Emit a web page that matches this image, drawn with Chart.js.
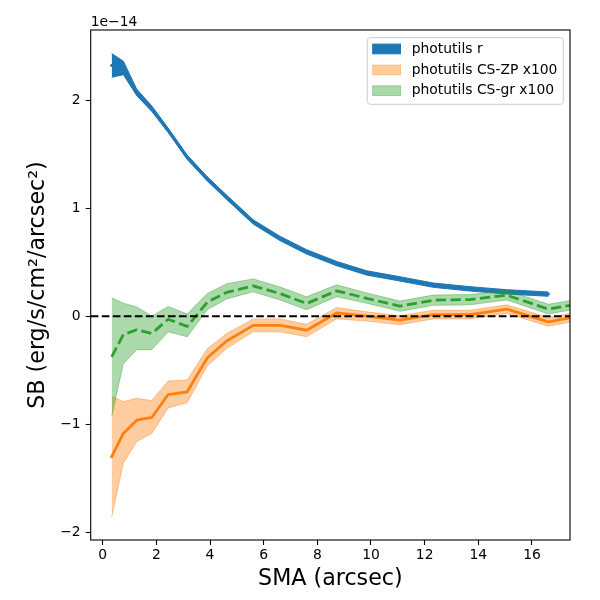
<!DOCTYPE html>
<html><head><meta charset="utf-8">
<script src="https://cdn.jsdelivr.net/npm/chart.js@4.4.1/dist/chart.umd.min.js"></script>
<style>html,body{margin:0;padding:0;background:#fff;}</style>
</head><body>
<canvas id="c" width="600" height="600"></canvas>
<script>
// ---- data (surface brightness in units of 1e-14) ----
const smaR = [0.335, 0.77, 1.27, 1.83, 2.44, 3.15, 3.90, 4.62, 5.61, 6.61, 7.60, 8.72, 9.84, 11.08, 12.32, 13.69, 15.06, 16.61];
const sbR      = [2.32, 2.30, 2.07, 1.92, 1.72, 1.47, 1.27, 1.10, 0.872, 0.719, 0.595, 0.487, 0.400, 0.345, 0.287, 0.253, 0.225, 0.204];
const sbRUpper = [2.43, 2.36, 2.10, 1.945, 1.74, 1.49, 1.29, 1.12, 0.892, 0.739, 0.615, 0.507, 0.420, 0.365, 0.307, 0.273, 0.245, 0.224];
const sbRLower = [2.21, 2.235, 2.04, 1.895, 1.70, 1.45, 1.25, 1.08, 0.852, 0.699, 0.575, 0.467, 0.380, 0.325, 0.267, 0.233, 0.205, 0.184];

const smaCS = [0.335, 0.77, 1.27, 1.83, 2.44, 3.15, 3.90, 4.62, 5.61, 6.61, 7.60, 8.72, 9.84, 11.08, 12.32, 13.69, 15.06, 16.61, 18.3];
const sbZP      = [-1.30, -1.085, -0.962, -0.937, -0.725, -0.70, -0.385, -0.23, -0.085, -0.085, -0.13, 0.03, 0.0, -0.037, 0.015, 0.015, 0.065, -0.053, 0.026];
const sbZPUpper = [-0.74, -0.79, -0.76, -0.78, -0.60, -0.59, -0.30, -0.16, -0.025, -0.025, -0.075, 0.08, 0.04, 0.005, 0.055, 0.055, 0.105, -0.013, 0.066];
const sbZPLower = [-1.857, -1.36, -1.16, -1.085, -0.85, -0.80, -0.46, -0.30, -0.145, -0.145, -0.19, -0.025, -0.045, -0.08, -0.025, -0.025, 0.025, -0.093, -0.014];

const sbGR      = [-0.376, -0.17, -0.125, -0.16, -0.028, -0.095, 0.13, 0.22, 0.28, 0.21, 0.117, 0.235, 0.165, 0.093, 0.148, 0.154, 0.194, 0.065, 0.138];
const sbGRUpper = [0.17, 0.12, 0.086, 0.0, 0.09, 0.02, 0.21, 0.30, 0.345, 0.27, 0.18, 0.29, 0.215, 0.14, 0.195, 0.20, 0.24, 0.11, 0.18];
const sbGRLower = [-0.925, -0.44, -0.31, -0.31, -0.145, -0.19, 0.06, 0.16, 0.225, 0.15, 0.06, 0.18, 0.12, 0.045, 0.10, 0.105, 0.15, 0.02, 0.095];

const seriesLabels = ['photutils r', 'photutils CS-ZP x100', 'photutils CS-gr x100'];
const xTicks = [0, 2, 4, 6, 8, 10, 12, 14, 16];
const yTicks = [-2, -1, 0, 1, 2];
const zeroLevel = 0;
const offsetLabel = '1e\u221214';
const xTitle = 'SMA (arcsec)';
const yTitle = 'SB (erg/s/cm\u00B2/arcsec\u00B2)';

// ---- styling ----
const FONT = "'DejaVu Sans', sans-serif";
const C_BLUE = '#1f77b4', C_ORANGE = '#ff7f0e', C_GREEN = '#2ca02c';
const A_ORANGE = 'rgba(255,127,14,0.4)', A_GREEN = 'rgba(44,160,44,0.4)';

const pts = (xs, ys) => xs.map((x, i) => ({x: x, y: ys[i]}));
const base = {pointRadius: 0, pointHoverRadius: 0, tension: 0, clip: 0};

const datasets = [
  // green (top)
  Object.assign({}, base, {data: pts(smaCS, sbGRUpper), fill: '+1', backgroundColor: A_GREEN, borderColor: A_GREEN, borderWidth: 1, order: 1}),
  Object.assign({}, base, {data: pts(smaCS, sbGRLower), fill: false, borderColor: A_GREEN, borderWidth: 1, order: 1}),
  Object.assign({}, base, {data: pts(smaCS, sbGR), fill: false, borderColor: C_GREEN, borderWidth: 2.78, borderDash: [10.28, 4.44], borderCapStyle: 'butt', borderJoinStyle: 'round', order: 1}),
  // orange
  Object.assign({}, base, {data: pts(smaCS, sbZPUpper), fill: '+1', backgroundColor: A_ORANGE, borderColor: A_ORANGE, borderWidth: 1, order: 2}),
  Object.assign({}, base, {data: pts(smaCS, sbZPLower), fill: false, borderColor: A_ORANGE, borderWidth: 1, order: 2}),
  Object.assign({}, base, {data: pts(smaCS, sbZP), fill: false, borderColor: C_ORANGE, borderWidth: 2.78, borderCapStyle: 'square', borderJoinStyle: 'round', order: 2}),
  // blue
  Object.assign({}, base, {data: pts(smaR, sbRUpper), fill: '+1', backgroundColor: C_BLUE, borderColor: C_BLUE, borderWidth: 1, order: 3}),
  Object.assign({}, base, {data: pts(smaR, sbRLower), fill: false, borderColor: C_BLUE, borderWidth: 1, order: 3}),
  Object.assign({}, base, {data: pts(smaR, sbR), fill: false, borderColor: C_BLUE, borderWidth: 2.78, borderCapStyle: 'square', borderJoinStyle: 'round', order: 3})
];

const legendItems = [
  {text: seriesLabels[0], fill: C_BLUE, stroke: C_BLUE},
  {text: seriesLabels[1], fill: A_ORANGE, stroke: A_ORANGE},
  {text: seriesLabels[2], fill: A_GREEN, stroke: A_GREEN}
];

const decor = {
  id: 'decor',
  afterDatasetsDraw(chart) {
    const {ctx, chartArea: a, scales: {y}} = chart;
    ctx.save();
    ctx.beginPath(); ctx.rect(a.left, a.top, a.right - a.left, a.bottom - a.top); ctx.clip();
    const y0 = y.getPixelForValue(zeroLevel);
    ctx.setLineDash([7.7, 3.33]); ctx.lineWidth = 2.08; ctx.strokeStyle = '#000'; ctx.lineCap = 'butt';
    ctx.beginPath(); ctx.moveTo(a.left, y0); ctx.lineTo(a.right, y0); ctx.stroke();
    ctx.restore();
  },
  afterDraw(chart) {
    const {ctx, chartArea: a} = chart;
    ctx.save();
    // frame
    ctx.lineWidth = 1.1; ctx.strokeStyle = '#000'; ctx.setLineDash([]);
    ctx.strokeRect(a.left, a.top, a.right - a.left, a.bottom - a.top);
    // offset text
    ctx.fillStyle = '#000'; ctx.font = '13.9px ' + FONT; ctx.textAlign = 'left'; ctx.textBaseline = 'alphabetic';
    ctx.fillText(offsetLabel, a.left, a.top - 4);
    // legend
    const lx = 367.3, ly = 37.7, lw = 196, lh = 66.6, r = 3;
    ctx.beginPath();
    ctx.moveTo(lx + r, ly); ctx.lineTo(lx + lw - r, ly); ctx.arcTo(lx + lw, ly, lx + lw, ly + r, r);
    ctx.lineTo(lx + lw, ly + lh - r); ctx.arcTo(lx + lw, ly + lh, lx + lw - r, ly + lh, r);
    ctx.lineTo(lx + r, ly + lh); ctx.arcTo(lx, ly + lh, lx, ly + lh - r, r);
    ctx.lineTo(lx, ly + r); ctx.arcTo(lx, ly, lx + r, ly, r); ctx.closePath();
    ctx.fillStyle = 'rgba(255,255,255,0.8)'; ctx.fill();
    ctx.strokeStyle = '#cccccc'; ctx.lineWidth = 1; ctx.stroke();
    const rows = [49, 70, 90.7];
    legendItems.forEach((it, i) => {
      const cy = rows[i];
      ctx.fillStyle = it.fill; ctx.fillRect(372.7, cy - 4.9, 27.8, 9.7);
      ctx.strokeStyle = it.stroke; ctx.lineWidth = 1; ctx.strokeRect(372.7, cy - 4.9, 27.8, 9.7);
      ctx.fillStyle = '#000'; ctx.font = '13.9px ' + FONT; ctx.textBaseline = 'middle';
      ctx.fillText(it.text, 411.7, cy);
    });
    ctx.restore();
  }
};

const minusFmt = v => String(v).replace('-', '\u2212');

new Chart(document.getElementById('c'), {
  type: 'line',
  data: {datasets: datasets},
  options: {
    responsive: false, animation: false, devicePixelRatio: 1,
    layout: {padding: {left: 0, right: 30, top: 30, bottom: 0}},
    plugins: {legend: {display: false}, tooltip: {enabled: false}, filler: {propagate: false}},
    scales: {
      x: {
        type: 'linear', min: -0.447, max: 17.417,
        afterFit(s) { s.height = 60; },
        afterBuildTicks(s) { s.ticks = xTicks.map(v => ({value: v})); },
        ticks: {color: '#000', font: {family: FONT, size: 13.9}, padding: 2, maxRotation: 0, autoSkip: false, callback: minusFmt},
        grid: {drawOnChartArea: false, drawTicks: true, tickLength: 5, tickColor: '#000', tickWidth: 1.1},
        border: {display: false},
        title: {display: true, text: xTitle, color: '#000', font: {family: FONT, size: 22.2}, padding: {top: 0, bottom: 7}}
      },
      y: {
        type: 'linear', min: -2.071, max: 2.648,
        afterFit(s) { s.width = 90.7; },
        afterBuildTicks(s) { s.ticks = yTicks.map(v => ({value: v})); },
        ticks: {color: '#000', font: {family: FONT, size: 13.9}, padding: 5, autoSkip: false, callback: minusFmt},
        grid: {drawOnChartArea: false, drawTicks: true, tickLength: 5, tickColor: '#000', tickWidth: 1.1},
        border: {display: false},
        title: {display: true, text: yTitle, color: '#000', font: {family: FONT, size: 22.2}, padding: {top: 25, bottom: 0}}
      }
    }
  },
  plugins: [decor]
});
</script>
</body></html>
